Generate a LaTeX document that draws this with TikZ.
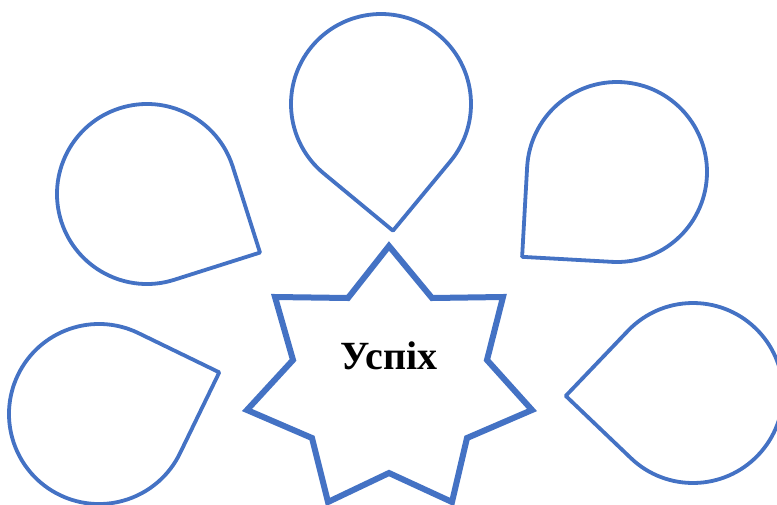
\documentclass[tikz,border=0pt]{standalone}
\usepackage{fontspec}
\setmainfont{Liberation Serif}
\definecolor{offblue}{HTML}{4472C4}
\tikzset{
  dropline/.style={draw=offblue, line width=3.8pt, line join=round},
  starline/.style={draw=offblue, line width=6pt, line join=miter, miter limit=10, fill=white},
  teardrop/.pic={
    \draw[dropline] (#1+45:90) arc[start angle=#1+45, delta angle=270, radius=90] -- (#1:127.28) -- cycle;
  },
  lbl/.style={font=\fontsize{40}{44}\selectfont\bfseries, text=black, inner sep=0pt}
}
\begin{document}
\begin{tikzpicture}[x=1pt, y=-1pt]
\useasboundingbox (0,0) rectangle (777,504);
% teardrops (screen angle of the tip)
\pic at (381,104) {teardrop=84.6};
\pic at (147,194) {teardrop=27.4};
\pic at (617,172) {teardrop=138.2};
\pic at (99,414) {teardrop=-19.1};
\pic at (693,393) {teardrop=178.7};
% star
\draw[starline] (389,246) -- (432,298) -- (503,297) -- (487,360) -- (532,410) -- (467,438) -- (452,502) -- (389,473) -- (328,502) -- (312,438) -- (247,410) -- (293,360) -- (275,297) -- (348,298) -- cycle;
\node[lbl] (title) at (389,356) {Успіх};
\end{tikzpicture}
\end{document}
